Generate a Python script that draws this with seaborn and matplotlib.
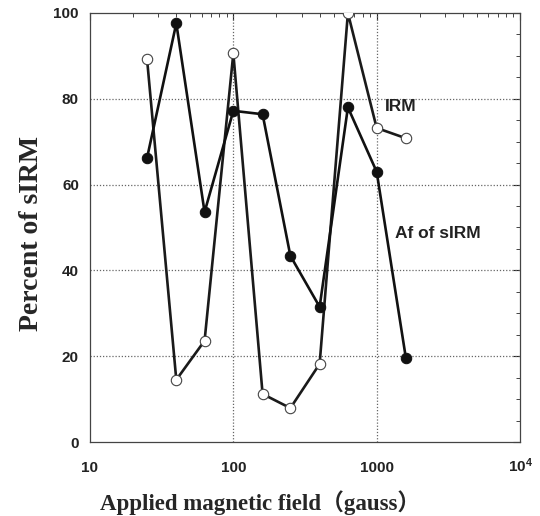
import matplotlib
matplotlib.use("Agg")
import matplotlib.pyplot as plt
import matplotlib.ticker as mticker
import seaborn as sns
import pandas as pd

# Data
field = [25, 40, 63, 100, 160, 250, 400, 630, 1000, 1600]
irm = [89.3, 14.5, 23.6, 90.6, 11.2, 7.9, 18.2, 100.0, 73.2, 70.8]
af_sirm = [66.2, 97.6, 53.6, 77.2, 76.4, 43.4, 31.5, 78.0, 63.0, 19.5]
xticks = [10, 100, 1000, 10000]
xticklabels = ["10", "100", "1000", "$\\mathbf{10^4}$"]
yticks = [0, 20, 40, 60, 80, 100]

sns.set_style("white")
plt.rcParams["font.family"] = ["Liberation Sans", "DejaVu Sans"]
plt.rcParams["mathtext.fontset"] = "custom"
plt.rcParams["mathtext.rm"] = "Liberation Sans"
plt.rcParams["mathtext.bf"] = "Liberation Sans:bold"

fig = plt.figure(figsize=(5.4, 5.16), dpi=100)
ax = fig.add_axes([90 / 540, 74 / 516, 430 / 540, 429 / 516])

df_irm = pd.DataFrame({"field": field, "pct": irm})
df_af = pd.DataFrame({"field": field, "pct": af_sirm})

sns.lineplot(data=df_irm, x="field", y="pct", ax=ax, color="#1a1a1a", lw=1.9,
             marker="o", markersize=7.5, markerfacecolor="white",
             markeredgecolor="#444444", markeredgewidth=0.8, zorder=3)
sns.lineplot(data=df_af, x="field", y="pct", ax=ax, color="#111111", lw=1.9,
             marker="o", markersize=7.5, markerfacecolor="#111111",
             markeredgecolor="#111111", zorder=4)

ax.set_xscale("log")
ax.set_xlim(10, 10000)
ax.set_ylim(0, 100)
ax.set_xticks(xticks)
ax.set_xticklabels(xticklabels)
ax.set_yticks(yticks)
ax.xaxis.set_minor_locator(mticker.LogLocator(base=10, subs=range(2, 10)))
ax.xaxis.set_minor_formatter(mticker.NullFormatter())
ax.yaxis.set_minor_locator(mticker.MultipleLocator(5))

ax.tick_params(which="major", direction="in", length=5, width=0.8,
               top=True, right=True, labelsize=11, pad=8, colors="#222222")
ax.tick_params(which="minor", direction="in", length=3, width=0.7,
               top=True, right=True, colors="#444444")
for lab in ax.get_xticklabels() + ax.get_yticklabels():
    lab.set_fontweight("bold")
for lab in ax.get_xticklabels():
    lab.set_verticalalignment("baseline")
ax.tick_params(axis="x", which="major", pad=21.5)

for x in [100, 1000]:
    ax.axvline(x, color="#666666", lw=0.9, ls=(0, (1, 1.5)), zorder=1)
for y in [20, 40, 60, 80]:
    ax.axhline(y, color="#666666", lw=0.9, ls=(0, (1, 1.5)), zorder=1)

for sp in ax.spines.values():
    sp.set_color("#444444")
    sp.set_linewidth(0.9)

ax.text(1150, 78.1, "IRM", fontsize=12.5, fontweight="bold", va="center", ha="left",
        color="#222222")
ax.text(1350, 48.7, "Af of sIRM", fontsize=12.5, fontweight="bold", va="center",
        ha="left", color="#222222")

ax.set_ylabel("")
ax.set_xlabel("")
fig.text(32 / 540, 1 - 234 / 516, "Percent of sIRM", family=["Liberation Serif"],
         fontsize=20, fontweight="bold", rotation=90, ha="center", va="center")
fig.text(260 / 540, 1 - 503 / 516, "Applied magnetic field\uff08gauss\uff09",
         family=["Liberation Serif", "Noto Sans CJK SC"], fontsize=16.5,
         fontweight="bold", ha="center", va="center")

fig.savefig("out.png", dpi=100)
